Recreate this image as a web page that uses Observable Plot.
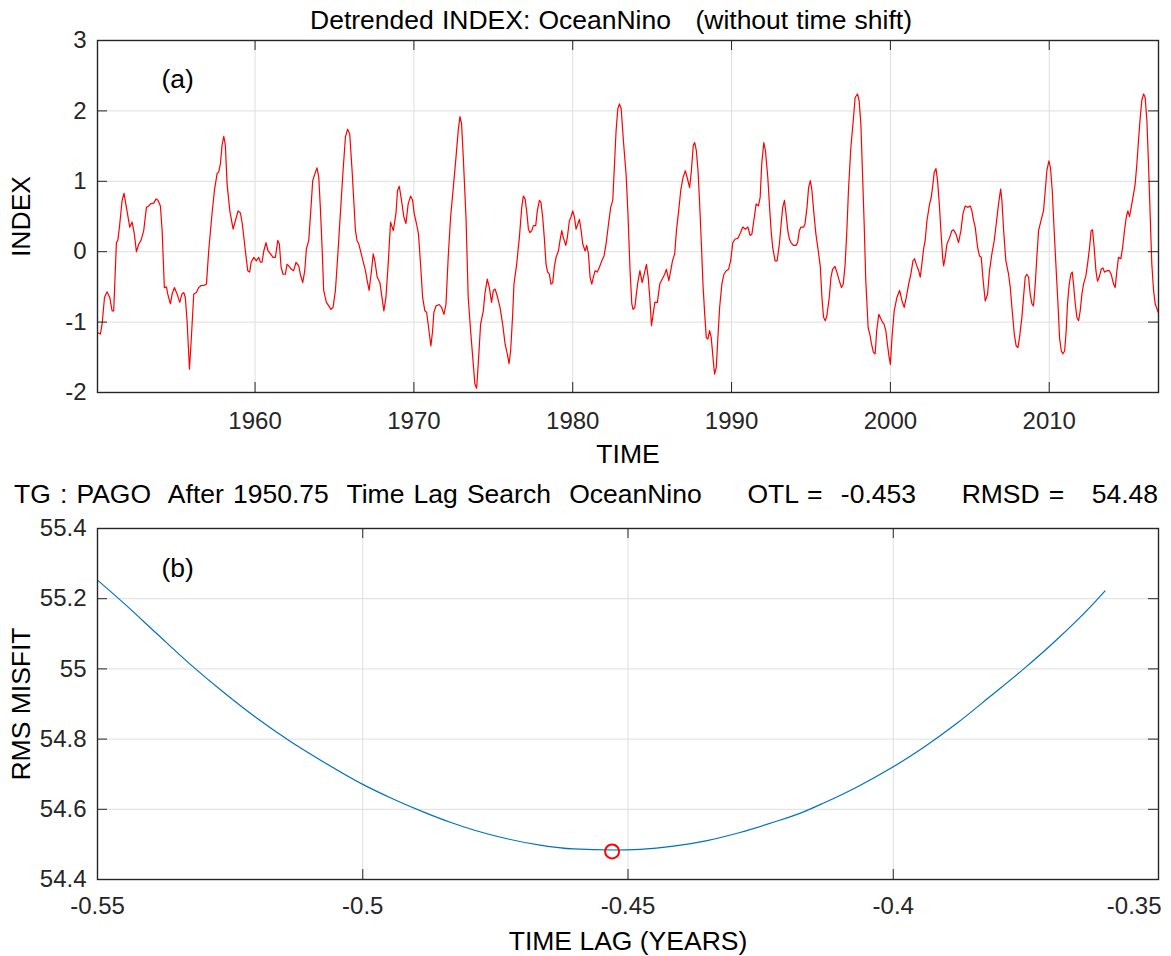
<!DOCTYPE html>
<html><head><meta charset="utf-8">
<script src="https://cdn.jsdelivr.net/npm/d3@7"></script>
<script src="https://cdn.jsdelivr.net/npm/@observablehq/plot@0.6"></script>
<style>
body{margin:0;background:#fff;}
#wrap{position:relative;width:1171px;height:956px;overflow:hidden;font-family:"Liberation Sans",Arial,Helvetica,sans-serif;}
.t{position:absolute;white-space:pre;font-size:26.5px;line-height:26.5px;color:#000;}
#pa,#pb{position:absolute;left:0;}
#pa{top:0px;} #pb{top:470px;}
g[aria-label$="axis label"], g[aria-label$="axis label"] text{font-size:26.5px;fill:#000;}
</style></head>
<body>
<div id="wrap">
  <div id="pa"></div>
  <div id="pb"></div>
  <div class="t" id="title" style="left:310px;top:7px;"></div>
  <div class="t" id="sub" style="left:14px;top:481px;"></div>
</div>
<script>
// ---------- Panel (a): detrended ONI index ----------
const titleText = "Detrended INDEX: OceanNino   (without time shift)";
const xTicksA = [1960, 1970, 1980, 1990, 2000, 2010];
const yTicksA = [-2, -1, 0, 1, 2, 3];
const years = [
1950.10,1950.26,1950.37,1950.52,1950.68,1950.85,1951.00,1951.10,1951.27,1951.36,1951.48,1951.63,1951.75,1951.90,
1952.11,1952.26,1952.40,1952.53,1952.68,1952.82,1952.99,1953.16,1953.31,1953.41,1953.62,1953.77,1953.89,1954.04,
1954.15,1954.29,1954.42,1954.50,1954.67,1954.78,1954.92,1955.09,1955.26,1955.40,1955.51,1955.61,1955.72,1955.87,
1955.99,1956.14,1956.31,1956.45,1956.60,1956.77,1956.94,1957.08,1957.29,1957.44,1957.61,1957.71,1957.82,1957.92,
1958.03,1958.13,1958.24,1958.41,1958.62,1958.76,1958.93,1959.08,1959.20,1959.39,1959.54,1959.66,1959.75,1959.92,
1960.08,1960.23,1960.34,1960.44,1960.55,1960.69,1960.82,1960.97,1961.13,1961.28,1961.43,1961.53,1961.64,1961.76,
1961.91,1962.01,1962.12,1962.29,1962.43,1962.58,1962.75,1962.85,1963.00,1963.13,1963.23,1963.38,1963.48,1963.63,
1963.80,1963.90,1964.01,1964.11,1964.22,1964.32,1964.49,1964.64,1964.78,1964.91,1965.06,1965.20,1965.37,1965.54,
1965.69,1965.83,1965.96,1966.11,1966.32,1966.42,1966.53,1966.74,1966.95,1967.06,1967.18,1967.33,1967.44,1967.54,
1967.69,1967.86,1967.96,1968.11,1968.24,1968.38,1968.53,1968.70,1968.87,1968.97,1969.08,1969.22,1969.37,1969.50,
1969.64,1969.79,1969.92,1970.02,1970.17,1970.29,1970.42,1970.55,1970.69,1970.80,1970.90,1971.07,1971.18,1971.26,
1971.39,1971.60,1971.74,1971.89,1972.02,1972.16,1972.31,1972.48,1972.65,1972.79,1972.90,1973.00,1973.11,1973.28,
1973.42,1973.57,1973.74,1973.84,1973.95,1974.05,1974.20,1974.37,1974.47,1974.62,1974.75,1974.89,1975.00,1975.11,
1975.25,1975.42,1975.59,1975.74,1975.88,1975.99,1976.09,1976.22,1976.30,1976.47,1976.64,1976.79,1976.89,1977.00,
1977.10,1977.21,1977.31,1977.42,1977.52,1977.67,1977.77,1977.90,1978.00,1978.11,1978.21,1978.32,1978.42,1978.53,
1978.63,1978.74,1978.84,1978.95,1979.10,1979.20,1979.31,1979.41,1979.56,1979.66,1979.79,1979.89,1980.00,1980.11,
1980.21,1980.32,1980.42,1980.53,1980.63,1980.78,1980.88,1980.99,1981.09,1981.20,1981.30,1981.41,1981.55,1981.68,
1981.83,1981.97,1982.10,1982.25,1982.39,1982.52,1982.63,1982.73,1982.84,1982.94,1983.05,1983.19,1983.36,1983.47,
1983.61,1983.72,1983.80,1983.91,1984.08,1984.23,1984.37,1984.50,1984.64,1984.75,1984.85,1984.96,1985.06,1985.17,
1985.33,1985.48,1985.63,1985.79,1985.90,1986.05,1986.17,1986.28,1986.42,1986.53,1986.67,1986.80,1986.95,1987.09,
1987.22,1987.36,1987.47,1987.59,1987.68,1987.78,1987.89,1987.99,1988.10,1988.20,1988.31,1988.41,1988.51,1988.62,
1988.72,1988.83,1988.93,1989.04,1989.14,1989.25,1989.39,1989.52,1989.67,1989.81,1989.94,1990.08,1990.23,1990.40,
1990.56,1990.71,1990.86,1991.03,1991.17,1991.28,1991.40,1991.55,1991.69,1991.80,1991.90,1992.03,1992.13,1992.28,
1992.38,1992.49,1992.59,1992.74,1992.87,1993.01,1993.12,1993.22,1993.33,1993.43,1993.54,1993.64,1993.74,1993.89,
1994.06,1994.16,1994.27,1994.37,1994.54,1994.62,1994.75,1994.85,1994.96,1995.06,1995.17,1995.31,1995.46,1995.59,
1995.69,1995.79,1995.90,1996.00,1996.15,1996.26,1996.36,1996.51,1996.63,1996.78,1996.92,1997.03,1997.15,1997.26,
1997.36,1997.51,1997.68,1997.78,1997.93,1998.03,1998.14,1998.24,1998.35,1998.45,1998.60,1998.72,1998.81,1998.93,
1999.04,1999.14,1999.27,1999.39,1999.50,1999.60,1999.71,1999.81,1999.92,2000.00,2000.10,2000.24,2000.41,2000.58,
2000.73,2000.87,2001.00,2001.15,2001.29,2001.42,2001.52,2001.63,2001.78,2001.88,2001.98,2002.09,2002.19,2002.30,
2002.47,2002.57,2002.68,2002.76,2002.87,2002.97,2003.08,2003.18,2003.29,2003.35,2003.45,2003.56,2003.73,2003.87,
2003.98,2004.13,2004.29,2004.44,2004.57,2004.71,2004.86,2005.03,2005.13,2005.24,2005.34,2005.49,2005.61,2005.72,
2005.82,2005.97,2006.12,2006.24,2006.39,2006.54,2006.66,2006.81,2006.94,2007.02,2007.13,2007.27,2007.44,2007.55,
2007.65,2007.80,2007.92,2008.03,2008.13,2008.28,2008.38,2008.49,2008.59,2008.70,2008.80,2008.91,2009.01,2009.12,
2009.22,2009.33,2009.48,2009.64,2009.75,2009.85,2009.98,2010.08,2010.19,2010.31,2010.44,2010.55,2010.65,2010.76,
2010.86,2010.97,2011.07,2011.15,2011.26,2011.36,2011.45,2011.53,2011.64,2011.74,2011.85,2011.95,2012.06,2012.16,
2012.31,2012.41,2012.54,2012.64,2012.73,2012.83,2012.94,2013.04,2013.15,2013.27,2013.38,2013.48,2013.63,2013.78,
2013.90,2014.05,2014.15,2014.26,2014.36,2014.51,2014.62,2014.74,2014.85,2014.95,2015.06,2015.16,2015.31,2015.41,
2015.52,2015.62,2015.73,2015.83,2015.94,2016.04,2016.15,2016.25,2016.36,2016.46,2016.57,2016.67,2016.86
];
const oni = [
-1.15,-1.17,-1.03,-0.65,-0.57,-0.65,-0.84,-0.84,0.13,0.16,0.39,0.73,0.83,0.63,
0.35,0.42,0.25,0.00,0.11,0.16,0.30,0.63,0.65,0.68,0.69,0.75,0.73,0.65,
0.30,-0.51,-0.50,-0.60,-0.74,-0.60,-0.51,-0.60,-0.72,-0.60,-0.58,-0.65,-0.98,-1.67,
-1.22,-0.60,-0.58,-0.51,-0.48,-0.48,-0.46,0.01,0.54,0.87,1.11,1.13,1.25,1.51,
1.64,1.51,0.96,0.58,0.32,0.44,0.58,0.55,0.39,0.01,-0.27,-0.29,-0.15,-0.08,
-0.13,-0.08,-0.15,-0.15,0.01,0.13,0.01,-0.03,-0.08,-0.08,0.16,0.11,-0.22,-0.32,
-0.32,-0.18,-0.20,-0.25,-0.27,-0.15,-0.20,-0.32,-0.44,-0.27,0.04,0.16,0.49,1.01,
1.13,1.19,1.06,0.63,0.06,-0.55,-0.72,-0.77,-0.82,-0.79,-0.55,-0.08,0.54,1.15,
1.63,1.74,1.67,1.15,0.30,0.16,0.11,-0.08,-0.27,-0.41,-0.55,-0.27,-0.03,-0.13,
-0.36,-0.44,-0.60,-0.84,-0.65,-0.18,0.42,0.30,0.54,0.87,0.93,0.73,0.49,0.40,
0.68,0.79,0.73,0.54,0.39,0.25,-0.18,-0.65,-0.84,-0.86,-1.03,-1.34,-1.12,-0.86,
-0.77,-0.75,-0.79,-0.89,-0.75,-0.08,0.49,0.91,1.34,1.72,1.92,1.82,1.34,0.49,
-0.65,-1.12,-1.60,-1.88,-1.94,-1.60,-1.03,-0.84,-0.60,-0.39,-0.51,-0.72,-0.55,-0.53,
-0.63,-0.79,-1.03,-1.31,-1.45,-1.59,-1.41,-0.89,-0.46,-0.18,0.20,0.63,0.79,0.75,
0.58,0.32,0.27,0.30,0.37,0.37,0.58,0.73,0.70,0.49,0.20,-0.18,-0.29,-0.32,
-0.46,-0.44,-0.22,-0.08,0.01,0.16,0.30,0.20,0.09,0.20,0.44,0.49,0.58,0.49,
0.32,0.39,0.46,0.30,0.11,0.01,0.09,-0.03,-0.36,-0.46,-0.36,-0.27,-0.29,-0.22,
-0.13,-0.06,0.11,0.39,0.63,0.73,1.25,1.72,2.03,2.10,2.03,1.58,1.10,0.58,
-0.27,-0.74,-0.82,-0.79,-0.46,-0.27,-0.44,-0.32,-0.18,-0.36,-0.65,-1.05,-0.89,-0.72,
-0.72,-0.46,-0.39,-0.32,-0.25,-0.41,-0.27,-0.13,-0.03,0.30,0.58,0.87,1.06,1.15,
1.04,0.91,1.15,1.51,1.55,1.44,1.15,0.68,0.11,-0.46,-0.89,-1.22,-1.24,-1.12,
-1.22,-1.50,-1.74,-1.64,-1.22,-0.79,-0.46,-0.32,-0.27,-0.25,-0.13,0.13,0.18,0.19,
0.27,0.35,0.32,0.35,0.23,0.25,0.44,0.68,0.65,0.77,1.25,1.55,1.44,1.06,
0.68,0.30,0.06,-0.13,-0.13,0.11,0.39,0.63,0.73,0.54,0.30,0.18,0.13,0.09,
0.09,0.13,0.30,0.35,0.35,0.39,0.63,0.91,1.01,0.87,0.58,0.25,0.01,-0.22,
-0.65,-0.93,-0.98,-0.91,-0.65,-0.36,-0.25,-0.21,-0.29,-0.41,-0.51,-0.46,-0.18,0.30,
0.87,1.48,1.91,2.19,2.24,2.15,1.82,1.15,0.39,-0.41,-1.08,-1.19,-1.31,-1.43,
-1.45,-1.12,-0.89,-0.95,-1.00,-1.03,-1.12,-1.31,-1.50,-1.60,-1.22,-0.84,-0.65,-0.55,
-0.70,-0.79,-0.65,-0.46,-0.32,-0.13,-0.10,-0.18,-0.27,-0.36,-0.18,0.04,0.16,0.44,
0.68,0.77,0.96,1.13,1.18,1.01,0.68,0.30,-0.08,-0.20,-0.08,0.11,0.20,0.30,
0.31,0.25,0.13,0.30,0.54,0.65,0.63,0.65,0.58,0.44,0.35,0.06,-0.06,-0.08,
-0.36,-0.70,-0.60,-0.27,-0.03,0.16,0.39,0.68,0.89,0.73,0.30,-0.13,-0.32,-0.51,
-0.79,-1.17,-1.34,-1.36,-1.22,-0.93,-0.65,-0.36,-0.32,-0.36,-0.60,-0.74,-0.77,-0.46,
-0.08,0.30,0.44,0.58,0.87,1.15,1.29,1.19,0.87,0.30,-0.27,-0.74,-1.22,-1.41,
-1.45,-1.41,-1.12,-0.74,-0.46,-0.32,-0.29,-0.46,-0.74,-0.93,-0.98,-0.84,-0.60,-0.46,
-0.34,-0.18,0.06,0.30,0.31,0.06,-0.27,-0.42,-0.36,-0.25,-0.23,-0.29,-0.27,-0.27,
-0.32,-0.46,-0.51,-0.27,-0.08,-0.10,0.06,0.30,0.49,0.58,0.50,0.63,0.82,0.96,
1.25,1.58,1.91,2.15,2.24,2.19,1.86,1.25,0.49,-0.18,-0.55,-0.74,-0.86
];

// ---------- Panel (b): time-lag search ----------
const otl = -0.453;
const rmsd = 54.48;
const subText = "TG : PAGO  After 1950.75  Time Lag Search  OceanNino     OTL =  " + otl.toFixed(3) + "     RMSD =   " + rmsd.toFixed(2);
const xTicksB = [-0.55, -0.5, -0.45, -0.4, -0.35];
const yTicksB = [54.4, 54.6, 54.8, 55, 55.2, 55.4];
const lags = [-0.55,-0.5451,-0.5388,-0.5325,-0.5263,-0.52,-0.5137,-0.5074,-0.50,-0.4948,-0.4885,-0.4835,
  -0.4791,-0.4728,-0.4666,-0.4603,-0.4527,-0.4477,-0.4414,-0.4351,-0.4289,-0.4226,-0.4175,-0.4131,
  -0.4069,-0.40,-0.3943,-0.388,-0.3817,-0.3754,-0.3692,-0.3629,-0.3601];
const misfit = [55.253,55.188,55.100,55.013,54.934,54.860,54.794,54.735,54.671,54.633,54.592,54.563,
  54.541,54.516,54.498,54.487,54.484,54.486,54.495,54.511,54.534,54.563,54.589,54.618,
  54.663,54.721,54.776,54.845,54.922,55.000,55.083,55.176,55.222];

const FONT = "Liberation Sans, Arial, Helvetica, sans-serif";
const AX = "#262626";
const GRID = "#dedede";
const TICK = 10;

// Title and subtitle text, spread to the reference widths by word spacing
function placeText(id, text, targetWidth) {
  const el = document.getElementById(id);
  el.textContent = text;
  const w = el.getBoundingClientRect().width;
  const n = (text.match(/ /g) || []).length;
  if (n > 0 && w < targetWidth) el.style.wordSpacing = ((targetWidth - w) / n) + "px";
}
placeText("title", titleText, 602);
placeText("sub", subText, 1144);

const seriesA = years.map((t, i) => ({t, v: oni[i]}));
const seriesB = lags.map((l, i) => ({l, m: misfit[i]}));

function frameMarks(xt, yt, fw, fh) {
  return [
    Plot.tickX(xt, {x: d => d, insetBottom: fh - TICK, stroke: AX, strokeWidth: 1}),
    Plot.tickX(xt, {x: d => d, insetTop: fh - TICK, stroke: AX, strokeWidth: 1}),
    Plot.tickY(yt, {y: d => d, insetRight: fw - TICK, stroke: AX, strokeWidth: 1}),
    Plot.tickY(yt, {y: d => d, insetLeft: fw - TICK, stroke: AX, strokeWidth: 1}),
    Plot.frame({stroke: AX, strokeWidth: 1.4})
  ];
}

const W = 1171, mL = 97, mR = 13;
const fw = W - mL - mR;

// Panel (a)
const hA = 470, mTA = 40, mBA = 78;
const fhA = hA - mTA - mBA;
const plotA = Plot.plot({
  width: W, height: hA,
  marginLeft: mL, marginRight: mR, marginTop: mTA, marginBottom: mBA,
  style: {fontFamily: FONT, fontSize: "24px", color: AX, background: "transparent"},
  x: {domain: [1950.08, 2016.88]},
  y: {domain: [-2, 3]},
  marks: [
    Plot.gridX(xTicksA, {stroke: GRID, strokeOpacity: 1}),
    Plot.gridY(yTicksA, {stroke: GRID, strokeOpacity: 1}),
    Plot.line(seriesA, {x: "t", y: "v", stroke: "#ff0000", strokeWidth: 1.2}),
    ...frameMarks(xTicksA, yTicksA, fw, fhA),
    Plot.axisX(xTicksA, {tickSize: 0, tickPadding: 19, tickFormat: d => String(d), fontSize: 24,
      label: "TIME", labelAnchor: "center", labelArrow: "none", labelOffset: 70}),
    Plot.axisY(yTicksA, {tickSize: 0, tickPadding: 11, tickFormat: d => String(d), fontSize: 24,
      label: "INDEX", labelAnchor: "center", labelArrow: "none", labelOffset: 86}),
    Plot.text(["(a)"], {frameAnchor: "top-left", dx: 64, dy: 39, textAnchor: "start", lineAnchor: "middle", fontSize: 26.5, fill: "#000"})
  ]
});
document.getElementById("pa").appendChild(plotA);

// Panel (b)
const hB = 486, mTB = 58, mBB = 77;
const fhB = hB - mTB - mBB;
const fmtB = d => String(+d.toFixed(2));
const plotB = Plot.plot({
  width: W, height: hB,
  marginLeft: mL, marginRight: mR, marginTop: mTB, marginBottom: mBB,
  style: {fontFamily: FONT, fontSize: "24px", color: AX, background: "transparent"},
  x: {domain: [-0.55, -0.35]},
  y: {domain: [54.4, 55.4]},
  marks: [
    Plot.gridX(xTicksB, {stroke: GRID, strokeOpacity: 1}),
    Plot.gridY(yTicksB, {stroke: GRID, strokeOpacity: 1}),
    Plot.line(seriesB, {x: "l", y: "m", stroke: "#0072bd", strokeWidth: 1.2, curve: "monotone-x"}),
    Plot.dot([{l: otl, m: rmsd}], {x: "l", y: "m", r: 7, stroke: "#ff0000", strokeWidth: 2, fill: "none"}),
    ...frameMarks(xTicksB, yTicksB, fw, fhB),
    Plot.axisX(xTicksB.slice(0, -1), {tickSize: 0, tickPadding: 17, tickFormat: fmtB, fontSize: 24,
      label: "TIME LAG (YEARS)", labelAnchor: "center", labelArrow: "none", labelOffset: 70}),
    Plot.text(xTicksB.slice(-1), {x: d => d, text: fmtB, frameAnchor: "bottom", dy: 17, dx: 3,
      lineAnchor: "top", textAnchor: "end", fontSize: 24, fill: AX}),
    Plot.axisY(yTicksB, {tickSize: 0, tickPadding: 11, tickFormat: d => String(+d.toFixed(1)), fontSize: 24,
      label: "RMS MISFIT", labelAnchor: "center", labelArrow: "none", labelOffset: 86}),
    Plot.text(["(b)"], {frameAnchor: "top-left", dx: 64, dy: 40, textAnchor: "start", lineAnchor: "middle", fontSize: 26.5, fill: "#000"})
  ]
});
document.getElementById("pb").appendChild(plotB);
</script>
</body></html>
